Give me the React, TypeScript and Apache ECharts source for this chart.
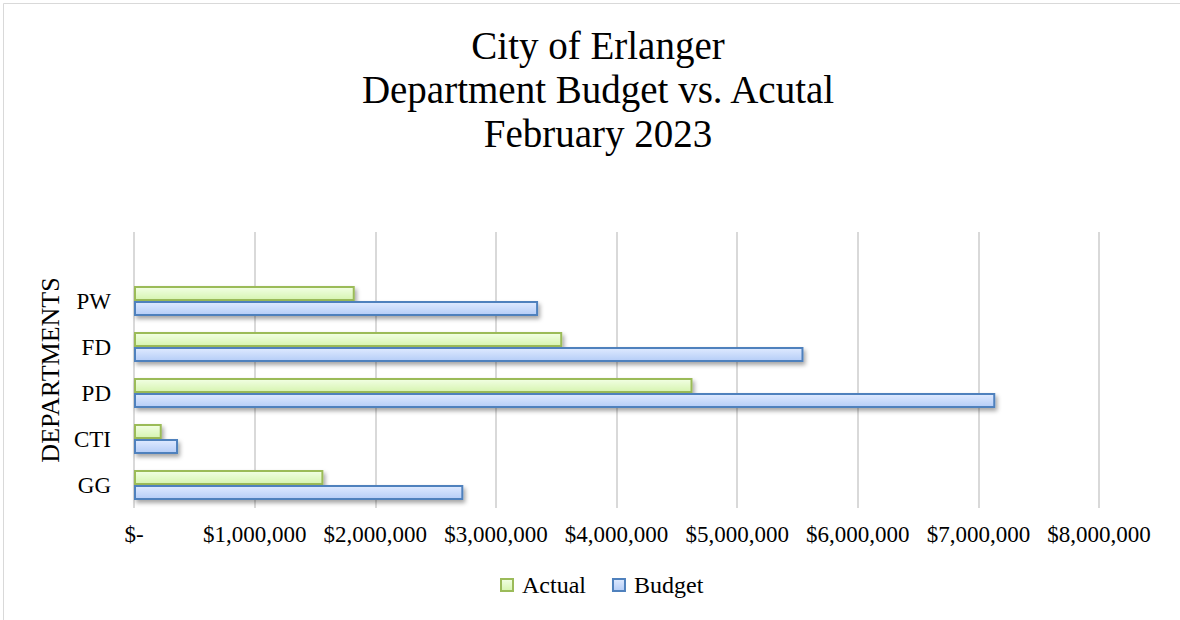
import React, { useEffect, useRef } from "react";
import * as echarts from "echarts";

const categories = ["GG", "CTI", "PD", "FD", "PW", ""];
const actual = [1570000, 230000, 4630000, 3550000, 1830000, null];
const budget = [2730000, 365000, 7140000, 5550000, 3350000, null];
const xTicks = [0, 1000000, 2000000, 3000000, 4000000, 5000000, 6000000, 7000000, 8000000];

const serif = "'Liberation Serif', 'Times New Roman', serif";

function fmt(v: number) {
  if (v === 0) return "$-";
  return "$" + v.toLocaleString("en-US");
}

export default function App() {
  const ref = useRef<HTMLDivElement>(null);
  useEffect(() => {
    const chart = echarts.init(ref.current!, null, { renderer: "svg" });
    const shadow = {
      shadowColor: "rgba(0,0,0,0.35)",
      shadowBlur: 4,
      shadowOffsetX: 2,
      shadowOffsetY: 3,
    };
    chart.setOption({
      animation: false,
      backgroundColor: "#ffffff",
      title: {
        text: "City of Erlanger\nDepartment Budget vs. Acutal\nFebruary 2023",
        left: 593,
        textAlign: "center",
        top: 18,
        textStyle: {
          fontFamily: serif,
          fontSize: 39,
          fontWeight: "normal",
          color: "#000",
          lineHeight: 44,
        },
      },
      graphic: [
        {
          type: "rect",
          shape: { x: 3.5, y: 3.5, width: 1200, height: 700 },
          style: { fill: "none", stroke: "#d9d9d9", lineWidth: 1 },
          silent: true,
        },
      ],
      legend: {
        top: 568,
        left: 495,
        itemWidth: 12,
        itemHeight: 12,
        itemGap: 26,
        icon: "rect",
        data: ["Actual", "Budget"],
        textStyle: { fontFamily: serif, fontSize: 24, color: "#000", padding: [0, 0, 0, 4] },
      },
      grid: { left: 134, right: 81, top: 232, bottom: 112, containLabel: false },
      xAxis: {
        type: "value",
        min: xTicks[0],
        max: xTicks[xTicks.length - 1],
        interval: xTicks[1] - xTicks[0],
        axisLine: { show: false },
        axisTick: { show: false },
        splitLine: { show: true, lineStyle: { color: "#d9d9d9", width: 2 } },
        axisLabel: {
          formatter: (v: number) => fmt(v),
          fontFamily: serif,
          fontSize: 23,
          color: "#000",
          margin: 15,
        },
      },
      yAxis: {
        type: "category",
        data: categories,
        name: "DEPARTMENTS",
        nameLocation: "middle",
        nameRotate: 90,
        nameGap: 65,
        nameTextStyle: { fontFamily: serif, fontSize: 26, color: "#000" },
        axisLine: { show: false },
        axisTick: { show: false },
        splitLine: { show: false },
        axisLabel: { fontFamily: serif, fontSize: 23, color: "#000", margin: 23 },
      },
      series: [
        {
          name: "Actual",
          type: "bar",
          data: actual,
          barWidth: 15,
          barGap: "0%",
          barCategoryGap: "30%",
          itemStyle: {
            color: new echarts.graphic.LinearGradient(0, 0, 0, 1, [
              { offset: 0, color: "#f2ffe4" },
              { offset: 1, color: "#d6f4b0" },
            ]),
            borderColor: "#9bbb59",
            borderWidth: 2,
            ...shadow,
          },
        },
        {
          name: "Budget",
          type: "bar",
          data: budget,
          barWidth: 15,
          barGap: "0%",
          barCategoryGap: "30%",
          itemStyle: {
            color: new echarts.graphic.LinearGradient(0, 0, 0, 1, [
              { offset: 0, color: "#dfeaff" },
              { offset: 1, color: "#b5cdf7" },
            ]),
            borderColor: "#4f81bd",
            borderWidth: 2,
            ...shadow,
          },
        },
      ],
    });
    return () => chart.dispose();
  }, []);
  return (
    <div
      ref={ref}
      style={{ position: "fixed", left: 0, top: 0, width: 1180, height: 620 }}
    />
  );
}
